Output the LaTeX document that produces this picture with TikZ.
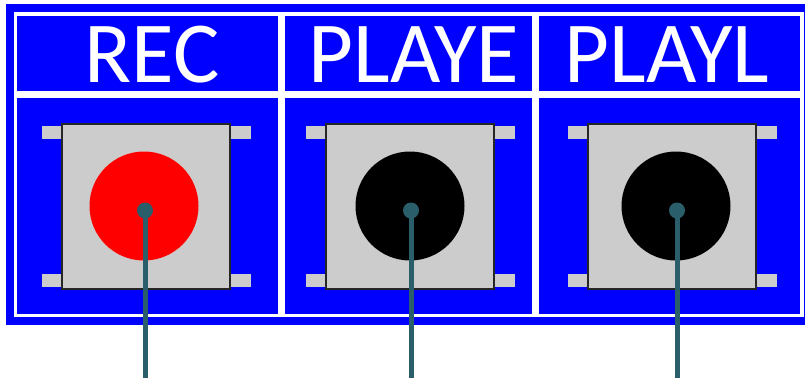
\documentclass[tikz,border=0pt]{standalone}
\usepackage{fontspec}
\setmainfont{Carlito}
\definecolor{pinblue}{RGB}{0,0,255}
\definecolor{btngray}{RGB}{204,204,204}
\definecolor{leadcol}{RGB}{42,94,106}
\tikzset{
  frameline/.style={draw=white, line width=3.5pt},
  divline/.style={draw=white, line width=7pt},
  btnbody/.style={fill=btngray, draw=black!85, line width=1.3pt},
  btntab/.style={fill=btngray},
  lbl/.style={text=white, font=\fontsize{87}{87}\selectfont, anchor=base, inner sep=0pt},
  lead/.style={draw=leadcol, line width=5pt},
  leaddot/.style={fill=leadcol},
}
\begin{document}
\begin{tikzpicture}[x=1pt,y=-1pt]
\useasboundingbox (0,0) rectangle (805,378);
% background
\fill[pinblue] (6,4) rectangle (805,325);
% frame
\draw[frameline] (15.5,14) rectangle (802,315.5);
\draw[divline] (15.5,94) -- (802,94);
\draw[divline] (281,14) -- (281,315.5);
\draw[divline] (535,14) -- (535,315.5);
% labels
\node[lbl] (lrec) at (152,82) {REC};
\node[lbl] (lplaye) at (414,82) {PLAYE};
\node[lbl] (lplayl) at (667,82) {PLAYL};
% buttons
\foreach \sx/\cx/\col/\nm in {62/145/red/a, 326/411/black/b, 588/677/black/c}{
  \fill[btntab] (\sx-20,126) rectangle (\sx+10,139);
  \fill[btntab] (\sx+150,126) rectangle (\sx+189,139);
  \fill[btntab] (\sx-20,274) rectangle (\sx+10,287);
  \fill[btntab] (\sx+150,274) rectangle (\sx+189,287);
  \draw[btnbody] (\sx,124) rectangle (\sx+168,289);
  \fill[\col] (\cx-1,206) circle (54.5);
  \coordinate (dot\nm) at (\cx,210.5);
  \coordinate (end\nm) at (\cx,378);
  \draw[lead] (dot\nm) -- (end\nm);
  \fill[leaddot] (dot\nm) circle (8);
}
\end{tikzpicture}
\end{document}
